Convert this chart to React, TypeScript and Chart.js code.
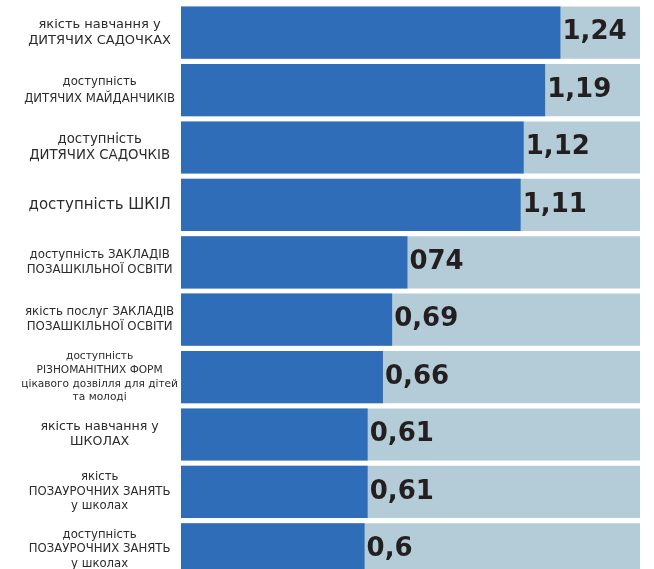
import React, { useEffect, useRef } from "react";
import { Chart, registerables } from "chart.js";

Chart.register(...registerables);

const categories: string[][] = [
  ["якість навчання у", "ДИТЯЧИХ САДОЧКАХ"],
  ["доступність", "ДИТЯЧИХ МАЙДАНЧИКІВ"],
  ["доступність", "ДИТЯЧИХ САДОЧКІВ"],
  ["доступність ШКІЛ"],
  ["доступність ЗАКЛАДІВ", "ПОЗАШКІЛЬНОЇ ОСВІТИ"],
  ["якість послуг ЗАКЛАДІВ", "ПОЗАШКІЛЬНОЇ ОСВІТИ"],
  ["доступність", "РІЗНОМАНІТНИХ ФОРМ", "цікавого дозвілля для дітей", "та молоді"],
  ["якість навчання у", "ШКОЛАХ"],
  ["якість", "ПОЗАУРОЧНИХ ЗАНЯТЬ", "у школах"],
  ["доступність", "ПОЗАУРОЧНИХ ЗАНЯТЬ", "у школах"],
];

const values: number[] = [1.24, 1.19, 1.12, 1.11, 0.74, 0.69, 0.66, 0.61, 0.61, 0.6];
const valueLabels: string[] = ["1,24", "1,19", "1,12", "1,11", "074", "0,69", "0,66", "0,61", "0,61", "0,6"];
const scaleMax = 1.5;
const backgroundValues: number[] = values.map(() => scaleMax);
const labelSizes: number[] = [13, 11.7, 13.3, 15, 11.8, 11.8, 10.6, 12.6, 11.7, 11.7];
const labelLineHeights: number[] = [1.27, 1.45, 1.2, 1.2, 1.27, 1.27, 1.28, 1.2, 1.24, 1.24];

const valueLabelPlugin = {
  id: "valueLabels",
  afterDatasetsDraw(chart: any) {
    const meta = chart.getDatasetMeta(0);
    const ctx = chart.ctx;
    ctx.save();
    ctx.font = "bold 26px 'DejaVu Sans'";
    ctx.fillStyle = "#231f20";
    ctx.textAlign = "left";
    ctx.textBaseline = "middle";
    meta.data.forEach((bar: any, i: number) => {
      ctx.fillText(valueLabels[i], bar.x + 2, bar.y);
    });
    ctx.restore();
  },
};

export default function App() {
  const ref = useRef<HTMLCanvasElement | null>(null);
  useEffect(() => {
    if (!ref.current) return;
    const chart = new Chart(ref.current, {
      type: "bar",
      data: {
        labels: categories,
        datasets: [
          {
            data: values,
            backgroundColor: "#2f6db8",
            barPercentage: 0.91,
            categoryPercentage: 1,
            grouped: false,
            order: 0,
          },
          {
            data: backgroundValues,
            backgroundColor: "#b3ccd7",
            barPercentage: 0.91,
            categoryPercentage: 1,
            grouped: false,
            order: 1,
          },
        ],
      },
      options: {
        indexAxis: "y",
        responsive: false,
        animation: false,
        layout: { padding: { left: 0, right: 14, top: 4, bottom: 12 } },
        plugins: { legend: { display: false }, tooltip: { enabled: false } },
        scales: {
          x: {
            display: false,
            min: 0,
            max: scaleMax,
          },
          y: {
            grid: { display: false },
            border: { display: false },
            afterFit: (scale: any) => {
              scale.width = 181;
              scale.paddingTop = 0;
              scale.paddingBottom = 0;
            },
            ticks: {
              autoSkip: false,
              crossAlign: "center",
              padding: -5,
              color: "#2b2b2b",
              font: (c: any) => ({
                family: "'DejaVu Sans', sans-serif",
                size: labelSizes[c.index] || 11.7,
                lineHeight: labelLineHeights[c.index] || 1.25,
              }),
            },
          },
        },
      } as any,
      plugins: [valueLabelPlugin],
    });
    return () => chart.destroy();
  }, []);
  return (
    <div
      style={{
        position: "fixed",
        left: 0,
        top: 0,
        width: 654,
        height: 569,
        overflow: "hidden",
        background: "#fff",
      }}
    >
      <canvas ref={ref} width={654} height={590} style={{ display: "block" }} />
    </div>
  );
}
